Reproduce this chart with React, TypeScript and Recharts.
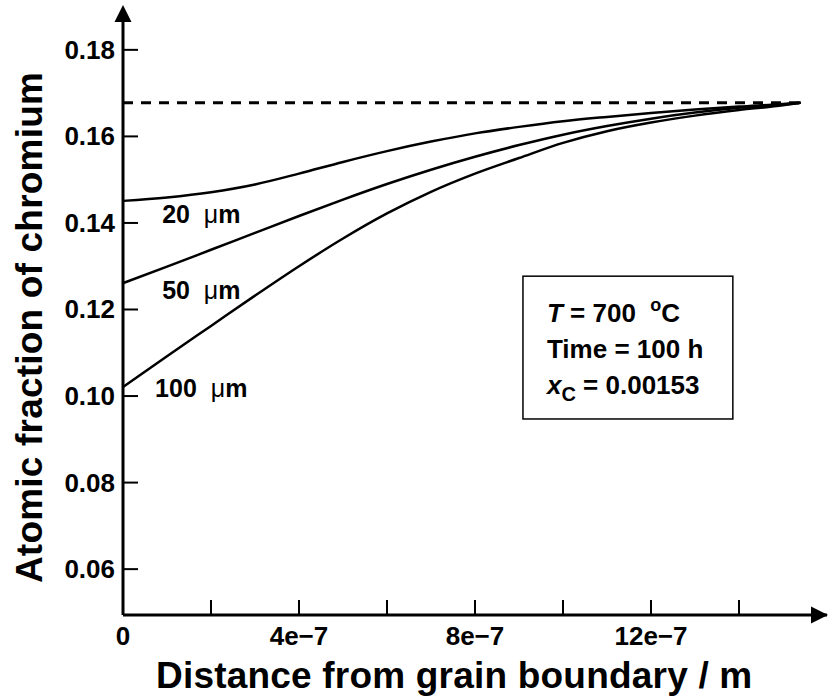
import {
  LineChart,
  Line,
  XAxis,
  YAxis,
  ReferenceLine,
  ReferenceDot,
  ReferenceArea,
} from "recharts";

const FONT = '"Liberation Sans", Arial, Helvetica, sans-serif';

// distance from the grain boundary (m)
const distance = [
  0, 1e-7, 2e-7, 3e-7, 4e-7, 5e-7, 6e-7, 7e-7, 8e-7, 9e-7, 10e-7, 11e-7,
  12e-7, 13e-7, 14e-7, 15e-7, 15.4e-7,
];
// atomic fraction of chromium, one list per grain size
const grain20 = [
  0.1451, 0.1459, 0.1471, 0.1489, 0.1514, 0.1541, 0.1566, 0.1588, 0.1607,
  0.1622, 0.1635, 0.1645, 0.1654, 0.1662, 0.1669, 0.1675, 0.1678,
];
const grain50 = [
  0.1261, 0.1299, 0.1338, 0.1377, 0.1416, 0.1454, 0.149, 0.1523, 0.1553,
  0.158, 0.1604, 0.1624, 0.1641, 0.1655, 0.1666, 0.1674, 0.1678,
];
const grain100 = [
  0.1021, 0.1092, 0.1162, 0.1232, 0.13, 0.1364, 0.1422, 0.1472, 0.1514,
  0.155, 0.1585, 0.1612, 0.1632, 0.1648, 0.1661, 0.1672, 0.1678,
];
const bulkFraction = 0.1678;

const xTicks = [0, 2e-7, 4e-7, 6e-7, 8e-7, 10e-7, 12e-7, 14e-7];
const yTicks = [0.06, 0.08, 0.1, 0.12, 0.14, 0.16, 0.18];
const xDomain = [0, 16e-7];
const yDomain = [0.0494, 0.1869];

const curveLabels = [
  { size: "20", x: 0.89e-7, y: 0.14 },
  { size: "50", x: 0.89e-7, y: 0.1224 },
  { size: "100", x: 0.73e-7, y: 0.0998 },
];

const data = distance.map((x, i) => ({
  x,
  g20: grain20[i],
  g50: grain50[i],
  g100: grain100[i],
}));

const fmtX = (v: number) => (v === 0 ? "0" : `${Math.round(v * 1e7)}e\u22127`);

const YTick = ({ x, y, payload }: any) => (
  <g>
    <line x1={x + 8} x2={x + 23} y1={y} y2={y} stroke="#000" strokeWidth={2} />
    <text x={x} y={y} dy={9} textAnchor="end" fontFamily={FONT} fontWeight="bold" fontSize={26} fill="#000">
      {payload.value.toFixed(2)}
    </text>
  </g>
);

const XTick = ({ x, y, payload }: any) => {
  const n = Math.round(payload.value * 1e7);
  return (
    <g>
      {n !== 0 && <line x1={x} x2={x} y1={y} y2={y - 15} stroke="#000" strokeWidth={2} />}
      {n % 4 === 0 && (
        <text x={x} y={y + 30} textAnchor="middle" fontFamily={FONT} fontWeight="bold" fontSize={26} fill="#000">
          {fmtX(payload.value)}
        </text>
      )}
    </g>
  );
};

const YTitle = ({ viewBox }: any) => {
  const vb = viewBox ?? { x: 0, y: 20, width: 123, height: 595 };
  const cx = vb.x + 42;
  const cy = vb.y + vb.height / 2 + 10;
  return (
    <text x={cx} y={cy} transform={`rotate(-90, ${cx}, ${cy})`} textAnchor="middle" fontFamily={FONT} fontWeight="bold" fontSize={37} letterSpacing={0.2} fill="#000">
      Atomic fraction of chromium
    </text>
  );
};

const XTitle = ({ viewBox }: any) => {
  const vb = viewBox ?? { x: 123, y: 615, width: 704, height: 83 };
  return (
    <text x={vb.x + 33} y={vb.y + 73} fontFamily={FONT} fontWeight="bold" fontSize={37} letterSpacing={0.2} fill="#000">
      Distance from grain boundary / m
    </text>
  );
};

const ArrowUp = ({ cx, cy }: any) => (
  <polygon points={`${cx},${cy - 15} ${cx - 8.5},${cy + 2} ${cx + 8.5},${cy + 2}`} fill="#000" />
);

const ArrowRight = ({ cx, cy }: any) => (
  <polygon points={`${cx + 1},${cy} ${cx - 16},${cy - 8.5} ${cx - 16},${cy + 8.5}`} fill="#000" />
);

const InfoBox = ({ x, y, width, height }: any) => {
  const tx = x + 24;
  const common = { fontFamily: FONT, fontWeight: "bold", fontSize: 26, fill: "#000" } as any;
  return (
    <g>
      <rect x={x} y={y} width={width} height={height} fill="none" stroke="#000" strokeWidth={1.5} />
      <text x={tx} y={y + 46} {...common} style={{ whiteSpace: "pre" }}>
        <tspan fontStyle="italic">T</tspan>
        <tspan>{" = 700  "}</tspan>
        <tspan dy={-11} fontSize={18}>o</tspan>
        <tspan dy={11}>C</tspan>
      </text>
      <text x={tx} y={y + 82} {...common}>
        Time = 100 h
      </text>
      <text x={tx} y={y + 118} {...common} style={{ whiteSpace: "pre" }}>
        <tspan fontStyle="italic">x</tspan>
        <tspan dy={7} fontSize={20}>C</tspan>
        <tspan dy={-7}>{" = 0.00153"}</tspan>
      </text>
    </g>
  );
};

const CurveLabel = ({ cx, cy, size }: any) => (
  <text x={cx} y={cy} fontFamily={FONT} fontWeight="bold" fontSize={25} fill="#000" style={{ whiteSpace: "pre" }}>
    {size + "  "}
    <tspan fontWeight="normal">{"\u03bc"}</tspan>
    <tspan>m</tspan>
  </text>
);

export default function App() {
  return (
    <div style={{ position: "absolute", left: 0, top: 0, width: 828, height: 698, background: "#fff" }}>
      <LineChart width={828} height={698} data={data} margin={{ top: 20, right: 1, bottom: 0, left: 0 }}>
        <XAxis
          type="number"
          dataKey="x"
          domain={xDomain}
          ticks={xTicks}
          interval={0}
          allowDataOverflow
          height={83}
          tickSize={0}
          tickMargin={0}
          tickLine={false}
          tick={<XTick />}
          axisLine={{ stroke: "#000", strokeWidth: 3 }}
          label={<XTitle />}
        />
        <YAxis
          type="number"
          domain={yDomain}
          ticks={yTicks}
          interval={0}
          allowDataOverflow
          width={123}
          tickSize={0}
          tickMargin={8}
          tickLine={false}
          tick={<YTick />}
          axisLine={{ stroke: "#000", strokeWidth: 3 }}
          label={<YTitle />}
        />
        <ReferenceLine
          segment={[
            { x: 0, y: bulkFraction },
            { x: distance[distance.length - 1], y: bulkFraction },
          ]}
          stroke="#000"
          strokeWidth={3}
          strokeDasharray="10 8"
          ifOverflow="visible"
        />
        <Line type="monotone" dataKey="g20" stroke="#000" strokeWidth={2.5} dot={false} activeDot={false} isAnimationActive={false} />
        <Line type="monotone" dataKey="g50" stroke="#000" strokeWidth={2.5} dot={false} activeDot={false} isAnimationActive={false} />
        <Line type="monotone" dataKey="g100" stroke="#000" strokeWidth={2.5} dot={false} activeDot={false} isAnimationActive={false} />
        {curveLabels.map((c) => (
          <ReferenceDot
            key={c.size}
            x={c.x}
            y={c.y}
            r={0}
            ifOverflow="visible"
            shape={(p: any) => <CurveLabel cx={p.cx} cy={p.cy} size={c.size} />}
          />
        ))}
        <ReferenceArea
          x1={9.09e-7}
          x2={13.86e-7}
          y1={0.0947}
          y2={0.1277}
          ifOverflow="visible"
          shape={(p: any) => <InfoBox {...p} />}
        />
        <ReferenceDot x={xDomain[0]} y={yDomain[1]} r={0} ifOverflow="visible" shape={(p: any) => <ArrowUp cx={p.cx} cy={p.cy} />} />
        <ReferenceDot x={xDomain[1]} y={yDomain[0]} r={0} ifOverflow="visible" shape={(p: any) => <ArrowRight cx={p.cx} cy={p.cy} />} />
      </LineChart>
    </div>
  );
}
